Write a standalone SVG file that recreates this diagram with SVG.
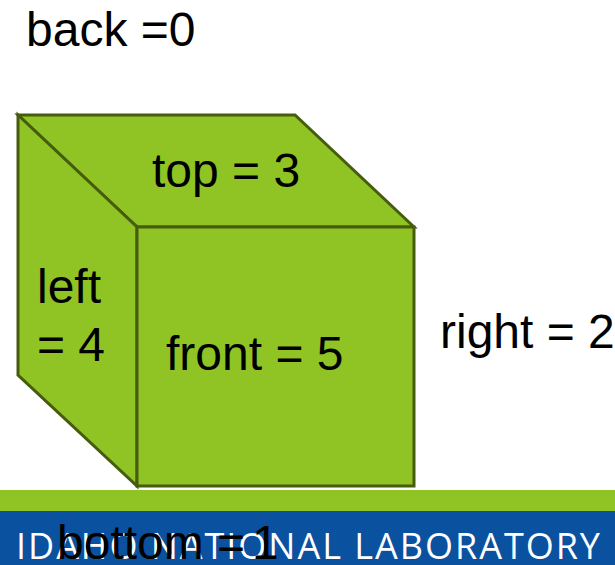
<svg xmlns="http://www.w3.org/2000/svg" width="615" height="565" viewBox="0 0 615 565">
<style>
.f{fill:#8fc424;stroke:#465c0f;stroke-width:3;stroke-linejoin:miter}
.t{font-family:"Liberation Sans",Arial,sans-serif;font-size:48px;fill:#000}
</style>
<rect width="615" height="565" fill="#fff"/>
<g id="banner">
<rect x="0" y="490" width="615" height="21" fill="#8fc424"/>
<rect x="0" y="511" width="615" height="54" fill="#0a519f"/>
<text x="16" y="559" font-family="'Open Sans',sans-serif" font-size="36" font-weight="400" fill="#fff" textLength="584" lengthAdjust="spacing">IDAHO NATIONAL LABORATORY</text>
</g>
<g id="cube">
<g id="face-top"><polygon class="f" points="18,115 295,115 414,227 137,227"/></g>
<g id="face-left"><polygon class="f" points="18,115 137,227 137,486 18,375"/></g>
<g id="face-front"><rect class="f" x="137" y="227" width="277" height="259"/></g>
</g>
<g id="labels">
<text class="t" x="26" y="46">back =0</text>
<text class="t" x="152" y="187">top = 3</text>
<text class="t" x="37" y="303">left</text>
<text class="t" x="37" y="361">= 4</text>
<text class="t" x="166" y="370">front = 5</text>
<text class="t" x="440" y="348">right = 2</text>
<text class="t" x="57" y="559">bottom =<tspan dx="7">1</tspan></text>
</g>
</svg>
